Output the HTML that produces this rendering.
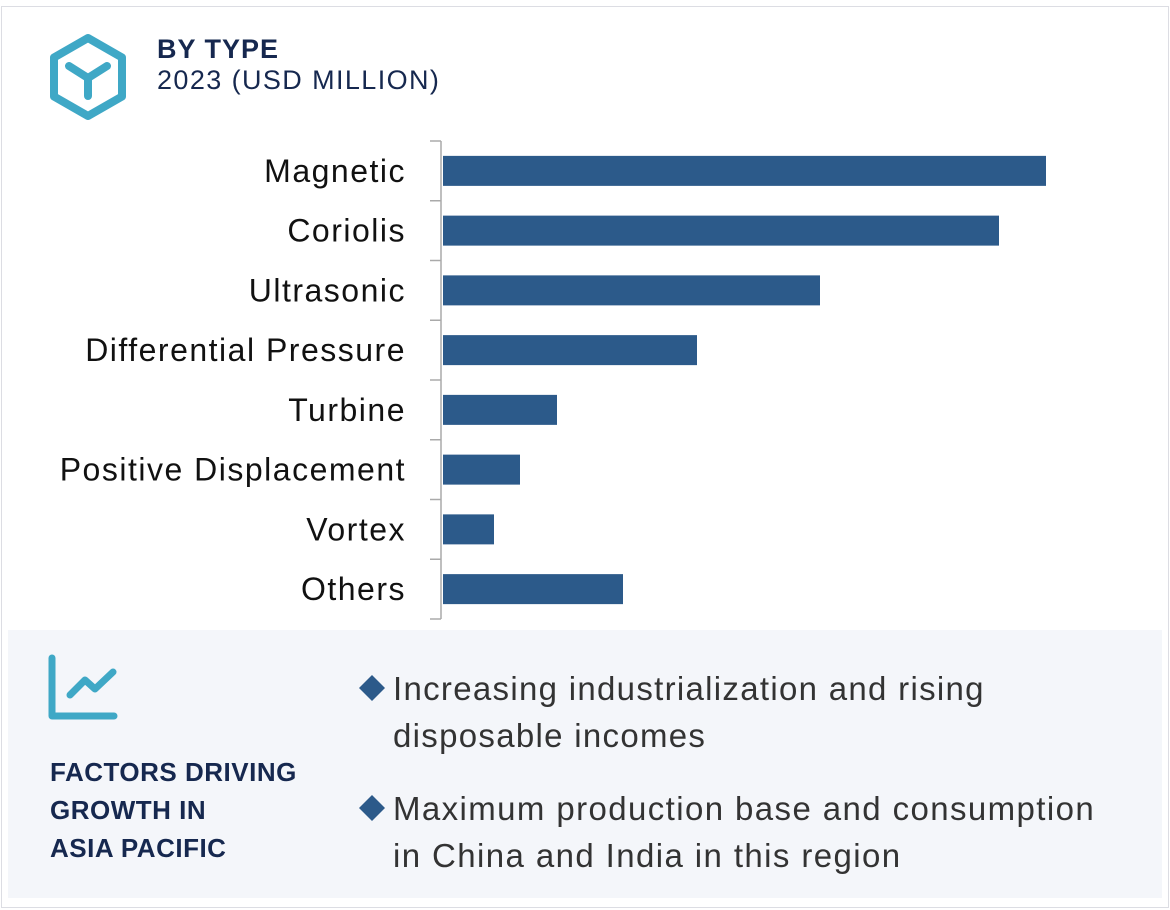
<!DOCTYPE html>
<html><head><meta charset="utf-8"><style>
body{margin:0;width:1170px;height:910px;background:#fff;font-family:"Liberation Sans",sans-serif;overflow:hidden}
.abs{position:absolute;white-space:nowrap}
</style></head><body>
<div class="abs" style="left:1px;top:6px;width:1166px;height:900px;border:1px solid #dcdde3;"></div>
<svg class="abs" style="left:0;top:0" width="140" height="130">
<polygon points="88,38 122,57.5 122,96.5 88,116 54,96.5 54,57.5" fill="none" stroke="#3fa8c6" stroke-width="8" stroke-linejoin="round"/>
<path d="M69,66 L88,78 L107,66 M88,78 L88,96" fill="none" stroke="#3fa8c6" stroke-width="8" stroke-linecap="round"/>
</svg>
<div class="abs" style="left:157px;top:34px;font-size:27px;font-weight:bold;color:#16284f;letter-spacing:1px">BY TYPE</div>
<div class="abs" style="left:157px;top:65px;font-size:27px;color:#16284f;letter-spacing:1.4px">2023 (USD MILLION)</div>
<svg id="chart" class="abs" style="left:0;top:0" width="1170" height="630"></svg>
<div class="abs" style="left:8px;top:630px;width:1154px;height:268px;background:#f4f6fa"></div>
<svg class="abs" style="left:0;top:630px" width="130" height="100">
<path d="M52,28 L52,86 L114,86" fill="none" stroke="#3fa8c6" stroke-width="7" stroke-linecap="round" stroke-linejoin="round"/>
<path d="M70,65 L85,50 L95,59 L113,42" fill="none" stroke="#3fa8c6" stroke-width="7" stroke-linecap="round" stroke-linejoin="round"/>
</svg>
<div class="abs" style="left:50px;top:753px;font-size:26px;font-weight:bold;color:#16284f;line-height:38px;letter-spacing:0.5px">FACTORS DRIVING<br>GROWTH IN<br>ASIA PACIFIC</div>
<div class="abs" style="left:393px;top:665px;font-size:33px;color:#333;line-height:47px;letter-spacing:1.3px">Increasing industrialization and rising<br>disposable incomes</div>
<div class="abs" style="left:393px;top:785px;font-size:33px;color:#333;line-height:47px;letter-spacing:1.4px">Maximum production base and consumption<br>in China and India in this region</div>
<svg class="abs" style="left:0;top:0" width="400" height="910">
<polygon points="372,675 385,688 372,701 359,688" fill="#2c5a8a"/>
<polygon points="372,795 385,808 372,821 359,808" fill="#2c5a8a"/>
</svg>
<script>
const categories=["Magnetic","Coriolis","Ultrasonic","Differential Pressure","Turbine","Positive Displacement","Vortex","Others"];
const values=[603,556,377,254,114,77,51,180];
const svg=document.getElementById('chart');
const NS="http://www.w3.org/2000/svg";
const x0=443,xMax=1046,vMax=603,top0=141,band=59.75,barH=30;
const xs=v=>x0+(v/vMax)*(xMax-x0);
const yb=i=>top0+i*band;
function mk(t,a){const e=document.createElementNS(NS,t);for(const k in a)e.setAttribute(k,a[k]);svg.appendChild(e);return e;}
const ax=mk('line',{x1:441,x2:441,y1:top0,y2:yb(categories.length),stroke:'#aaa','stroke-width':1.5});


for(let i=0;i<=categories.length;i++){
 const t=mk('line',{x1:430,x2:441,y1:yb(i),y2:yb(i),stroke:'#aaa','stroke-width':1.5});
 
 
}
categories.forEach((c,i)=>{
 const cy=yb(i)+band/2;
 const r=mk('rect',{x:x0,y:cy-barH/2,width:xs(values[i])-x0,height:barH,fill:'#2c5a8a'});
 
 
 const t=mk('text',{x:406,y:cy+11,'text-anchor':'end','font-size':32,'letter-spacing':1.5,fill:'#111','font-family':'Liberation Sans, sans-serif'});
 t.textContent=c;
 
 
});
</script>
</body></html>
